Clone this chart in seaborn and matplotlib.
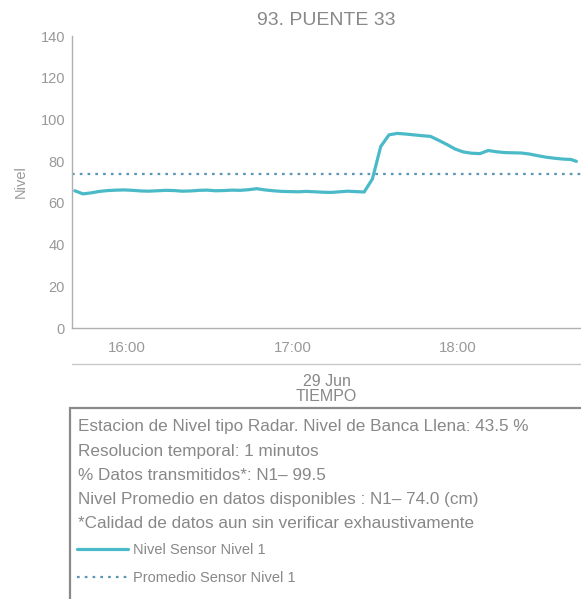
import pandas as pd

import matplotlib
matplotlib.use('Agg')
import matplotlib.pyplot as plt
import matplotlib.dates as mdates
from matplotlib.lines import Line2D
from matplotlib.patches import Rectangle

import seaborn as sns

# Data (every 3 minutes)
fecha = "2023-06-29"
horas = [
    "15:41", "15:44", "15:47", "15:50", "15:53", "15:56", "15:59",
    "16:02", "16:05", "16:08", "16:11", "16:14", "16:17", "16:20",
    "16:23", "16:26", "16:29", "16:32", "16:35", "16:38", "16:41",
    "16:44", "16:47", "16:50", "16:53", "16:56", "16:59", "17:02",
    "17:05", "17:08", "17:11", "17:14", "17:17", "17:20", "17:23",
    "17:26", "17:29", "17:32", "17:35", "17:38", "17:41", "17:44",
    "17:47", "17:50", "17:53", "17:56", "17:59", "18:02", "18:05",
    "18:08", "18:11", "18:14", "18:17", "18:20", "18:23", "18:26",
    "18:29", "18:32", "18:35", "18:38", "18:41", "18:43",
]
nivel = [
    65.8, 64.3, 64.8, 65.5, 65.9, 66.1, 66.2,
    66.0, 65.7, 65.6, 65.8, 66.0, 65.9, 65.6,
    65.7, 66.0, 66.1, 65.8, 65.9, 66.1, 66.0,
    66.3, 66.8, 66.2, 65.8, 65.5, 65.4, 65.3,
    65.5, 65.3, 65.1, 65.0, 65.3, 65.6, 65.4,
    65.2, 71.5, 87.0, 92.6, 93.3, 93.0, 92.6,
    92.2, 91.9, 90.0, 88.0, 85.8, 84.4, 83.8,
    83.6, 85.1, 84.5, 84.1, 84.0, 83.9, 83.4,
    82.6, 81.9, 81.4, 81.0, 80.8, 79.9,
]
promedio = 74.0

titulo = "93. PUENTE 33"
info = [
    "Estacion de Nivel tipo Radar. Nivel de Banca Llena: 43.5 %",
    "Resolucion temporal: 1 minutos",
    "% Datos transmitidos*: N1\u2013 99.5",
    "Nivel Promedio en datos disponibles : N1\u2013 74.0 (cm)",
    "*Calidad de datos aun sin verificar exhaustivamente",
]
serie_label = "Nivel Sensor Nivel 1"
promedio_label = "Promedio Sensor Nivel 1"

df = pd.DataFrame({
    "tiempo": pd.to_datetime([fecha + " " + h for h in horas]),
    "nivel": nivel,
})

sns.set_style("white")
plt.rcParams['font.family'] = ['Liberation Sans', 'DejaVu Sans']

gris = "#999999"
fig = plt.figure(figsize=(5.81, 5.99), dpi=100)
ax = fig.add_axes([72 / 581, 1 - 328 / 599, 509 / 581, 292 / 599])

sns.lineplot(data=df, x="tiempo", y="nivel", ax=ax, color="#4bbac8",
             linewidth=2.3, label=serie_label)
ax.axhline(promedio, color="#5a95b5", linewidth=1.6,
           dashes=(1.2, 2.3), label=promedio_label)

ax.set_ylim(0, 140)
ax.set_yticks(range(0, 141, 20))
ax.set_xlim(pd.Timestamp(fecha + " 15:40"), pd.Timestamp(fecha + " 18:44:40"))
ax.xaxis.set_major_locator(mdates.HourLocator())
ax.xaxis.set_major_formatter(mdates.DateFormatter("%H:%M"))

for side in ["top", "right"]:
    ax.spines[side].set_visible(False)
for side in ["left", "bottom"]:
    ax.spines[side].set_color("#b0b0b0")
    ax.spines[side].set_linewidth(1.0)

ax.tick_params(axis="y", direction="in", length=5, color="#b0b0b0",
               labelcolor=gris, labelsize=10.5, pad=5)
ax.tick_params(axis="x", direction="in", length=4, color="#b0b0b0",
               labelcolor=gris, labelsize=10.8, pad=9)

ax.set_title(titulo, color="#888888", fontsize=14, pad=8)
ax.set_ylabel("Nivel", color=gris, fontsize=10.5)
ax.yaxis.set_label_coords(-0.086, 0.5)
ax.set_xlabel("29 Jun\nTIEMPO", color="#888888", fontsize=11.5, linespacing=1.0)
ax.xaxis.set_label_coords(0.5, -0.159)
ax.legend_.remove()

# separator line and info box
fig.add_artist(Line2D([72 / 581, 1], [1 - 364 / 599] * 2, color="#c8c8c8",
                      linewidth=1.0, transform=fig.transFigure))
fig.add_artist(Rectangle((70 / 581, -0.01), 1, 1 - 408 / 599 + 0.01,
                         fill=False, edgecolor="#8a8a8a", linewidth=1.6,
                         transform=fig.transFigure))

for i, linea in enumerate(info):
    fig.text(78 / 581, 1 - (427 + i * 24.2) / 599, linea, color="#888888",
             fontsize=12.3, va="center", ha="left")

handles, labels = ax.get_legend_handles_labels()
fig.legend(handles, labels, loc="upper left",
           bbox_to_anchor=(77 / 581, 1 - 543 / 599), frameon=False,
           fontsize=10.5, labelcolor="#888888", handlelength=3.5,
           handletextpad=0.35, labelspacing=0.95, borderpad=0, borderaxespad=0)

fig.savefig("out.png", dpi=100)
